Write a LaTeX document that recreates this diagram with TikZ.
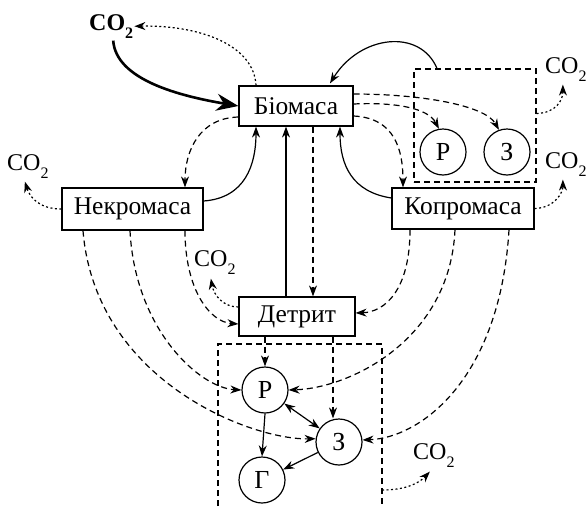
\documentclass[tikz,border=0pt]{standalone}
\usepackage{fontspec}
\setmainfont{Liberation Serif}
\usetikzlibrary{arrows.meta}
\newcommand\cotwo{CO\raisebox{-0.35em}{\fontsize{16}{16}\selectfont 2}}
\begin{document}
\begin{tikzpicture}[x=1pt,y=-1pt,
  box/.style={draw, line width=1.2pt, inner sep=0pt, font=\fontsize{25.5}{25.5}\selectfont},
  circ/.style={draw, circle, line width=1.2pt, minimum size=46pt, inner sep=0pt, font=\fontsize{26}{26}\selectfont},
  co/.style={inner sep=0pt, anchor=base west, font=\fontsize{24}{24}\selectfont},
  sol/.style={line width=1.2pt, -{Stealth[length=11pt,width=8pt]}},
  dsh/.style={sol, dash pattern=on 6pt off 4pt},
  dtt/.style={sol, dash pattern=on 2pt off 2.5pt},
  frame/.style={line width=1.1pt, dash pattern=on 6pt off 4pt},
  thick arrow/.style={line width=2.6pt, -{Stealth[length=22pt,width=17pt]}}]
\useasboundingbox (0,0) rectangle (586,509);

% boxes
\node[box, minimum width=114pt, minimum height=40pt] (bio) at (296,106) {Біомаса};
\node[box, minimum width=141pt, minimum height=42pt] (nek) at (132.5,209) {Некромаса};
\node[box, minimum width=142pt, minimum height=41pt] (kop) at (463,208.5) {Копромаса};
\node[box, minimum width=116pt, minimum height=39pt] (det) at (297,316.5) {Детрит};

% upper frame and circles
\node[frame, draw, minimum width=122pt, minimum height=113pt, inner sep=0pt] (uf) at (475,125.5) {};
\node[circ] (pu) at (443,152) {Р};
\node[circ] (zu) at (507,152) {З};

% lower frame (open at bottom)
\coordinate (lfa) at (218,506);
\coordinate (lfb) at (218,344);
\coordinate (lfc) at (382,344);
\coordinate (lfd) at (382,506);
\coordinate (lfr) at (382,490);
\draw[frame] (lfa) -- (lfb) -- (lfc) -- (lfd);
\node[circ] (pl) at (265,390) {Р};
\node[circ] (zl) at (339,442) {З};
\node[circ] (gl) at (262,480) {Г};

% CO2 labels
\node[co, font=\fontsize{24}{24}\selectfont\bfseries] (co1) at (89,30) {\cotwo};
\node[co] (col) at (7,170) {\cotwo};
\node[co] (cor1) at (545,73) {\cotwo};
\node[co] (cor2) at (545,168) {\cotwo};
\node[co] (com) at (194,266) {\cotwo};
\node[co] (cob) at (413,459) {\cotwo};

% top
\draw[thick arrow] ([xshift=2pt,yshift=-2pt]co1.south) .. controls (116,80) and (180,96) .. (bio.west);
\draw[dtt] ([xshift=-40pt]bio.north) .. controls (254,45) and (200,25) .. ([xshift=1pt]co1.east);
\draw[sol] ([xshift=-38pt]uf.north) .. controls (420,28) and (360,35) .. ([xshift=34pt,yshift=2pt]bio.north);

% biomass to right
\draw[dsh] ([yshift=12pt]bio.east) .. controls (420,94) and (485,105) .. (zu.110);
\draw[dsh] ([yshift=2pt]bio.east) .. controls (395,102) and (428,108) .. (pu.100);
\draw[dsh] ([yshift=-10pt]bio.east) .. controls (395,118) and (403,150) .. ([xshift=-60pt]kop.north);
\draw[sol] ([yshift=10.5pt]kop.west) .. controls (352,192) and (340,165) .. ([xshift=44pt]bio.south);

% biomass to left
\draw[dsh] ([yshift=-11pt]bio.west) .. controls (200,118) and (185,150) .. ([xshift=52.5pt]nek.north);
\draw[sol] ([yshift=8pt]nek.east) .. controls (245,198) and (256,165) .. ([xshift=-40pt]bio.south);

% biomass <-> detritus
\draw[sol] ([xshift=-11pt]det.north) -- ([xshift=-11pt]det.north |- bio.south);
\draw[dsh] ([xshift=17pt]bio.south) -- ([xshift=17pt]bio.south |- det.north);

% necromass bottom
\draw[dsh] ([xshift=52.5pt]nek.south) .. controls (185,290) and (210,322) .. ([yshift=-7.5pt]det.west);
\draw[dsh] ([xshift=-2.5pt]nek.south) .. controls (135,330) and (200,388) .. (pl.west);
\draw[dsh] ([xshift=-49.5pt]nek.south) .. controls (95,380) and (250,440) .. (zl.172);

% copromass bottom
\draw[dsh] ([xshift=-53pt]kop.south) .. controls (410,290) and (385,312) .. ([yshift=3.5pt]det.east);
\draw[dsh] ([xshift=-8pt]kop.south) .. controls (450,340) and (350,388) .. (pl.east);
\draw[dsh] ([xshift=46pt]kop.south) .. controls (500,380) and (420,438) .. (zl.5);

% detritus bottom
\draw[dsh] (pl.north |- det.south) -- (pl.north);
\draw[dsh] ([xshift=36pt]det.south) -- ([xshift=36pt]det.south |- zl.north);

% lower trophic
\draw[line width=1.2pt, {Stealth[length=11pt,width=8pt]}-{Stealth[length=11pt,width=8pt]}] (pl) -- (zl);
\draw[sol] (pl.south) -- (gl.north);
\draw[sol] (zl) -- (gl);

% CO2 releases
\draw[dtt] (nek.west) .. controls (40,209) and (30,198) .. ([xshift=-3pt,yshift=-3pt]col.south);
\draw[dtt] ([yshift=9.5pt]det.west) .. controls (224,307) and (214,296) .. ([xshift=-4pt,yshift=-4pt]com.south);
\draw[dtt] ([yshift=12pt]uf.east) .. controls (556,113) and (563,100) .. ([xshift=-3pt,yshift=-3pt]cor1.south);
\draw[dtt] (kop.east) .. controls (555,208) and (563,192) .. ([xshift=-3pt,yshift=-3pt]cor2.south);
\draw[dtt] (lfr) .. controls (408,490) and (420,482) .. ([xshift=-4pt,yshift=-4pt]cob.south);
\end{tikzpicture}
\end{document}
